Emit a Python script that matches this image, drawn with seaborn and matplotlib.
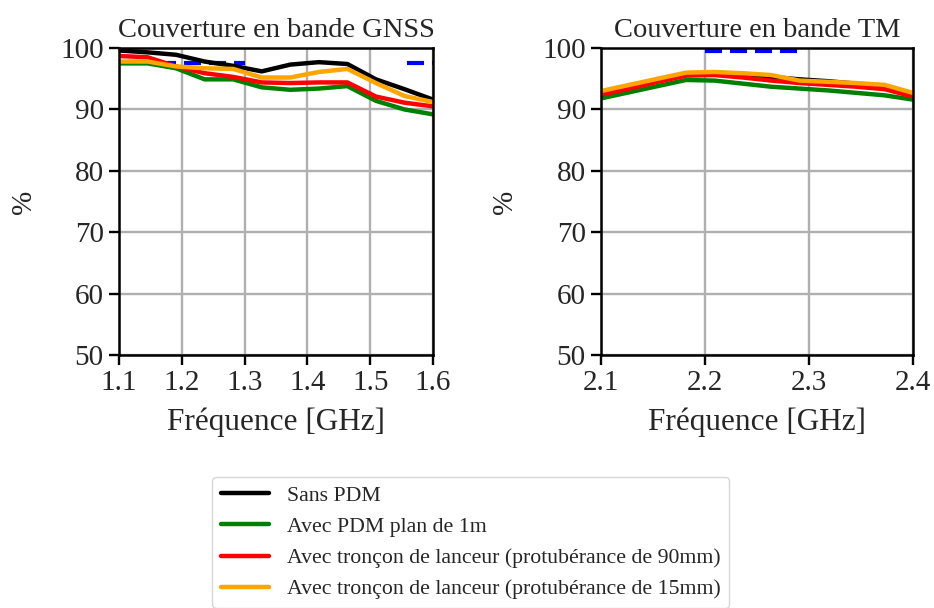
"""Couverture GNSS / TM avec et sans PDM."""

import matplotlib

matplotlib.use("Agg")
import matplotlib.pyplot as plt
import pandas as pd
import seaborn as sns

SERIES = [
    "Sans PDM",
    "Avec PDM plan de 1m",
    "Avec tronçon de lanceur (protubérance de 90mm)",
    "Avec tronçon de lanceur (protubérance de 15mm)",
]
COLORS = ["black", "green", "red", "orange"]

# bande GNSS
freq_gnss = [1.1, 1.1455, 1.1909, 1.2364, 1.2818, 1.3273, 1.3727, 1.4182, 1.4636, 1.5091, 1.5545, 1.6]
gnss_sans_pdm = [99.6, 99.3, 98.9, 97.8, 97.1, 96.2, 97.3, 97.7, 97.4, 94.9, 93.3, 91.6]
gnss_pdm_1m = [97.5, 97.5, 96.7, 94.9, 94.9, 93.6, 93.2, 93.4, 93.8, 91.4, 90.0, 89.2]
gnss_troncon_90 = [98.7, 98.5, 97.0, 95.9, 95.3, 94.4, 94.3, 94.4, 94.4, 92.1, 91.1, 90.5]
gnss_troncon_15 = [97.8, 97.8, 97.0, 96.7, 96.6, 95.2, 95.2, 96.1, 96.6, 94.3, 92.2, 91.2]

# bande TM
freq_tm = [2.1, 2.1273, 2.1545, 2.1818, 2.2091, 2.2364, 2.2636, 2.2909, 2.3182, 2.3455, 2.3727, 2.4]
tm_sans_pdm = [92.6, 93.6, 94.7, 95.7, 95.8, 95.6, 95.3, 94.9, 94.6, 94.2, 93.7, 92.3]
tm_pdm_1m = [91.8, 92.8, 93.8, 94.8, 94.7, 94.2, 93.7, 93.4, 93.1, 92.7, 92.3, 91.6]
tm_troncon_90 = [92.4, 93.4, 94.5, 95.5, 95.6, 95.2, 94.7, 94.3, 94.0, 93.7, 93.3, 92.1]
tm_troncon_15 = [93.0, 94.0, 95.0, 96.0, 96.1, 95.9, 95.6, 94.7, 94.5, 94.3, 94.0, 92.7]

# gabarits (bandes utiles)
spec_gnss_bands = [(1.164, 1.300), (1.559, 1.610)]
spec_gnss_level = 97.5
spec_tm_bands = [(2.200, 2.290)]
spec_tm_level = 99.5


def long_frame(freq, curves):
    rows = []
    for name, values in zip(SERIES, curves):
        for f, v in zip(freq, values):
            rows.append({"freq": f, "couverture": v, "serie": name})
    return pd.DataFrame(rows)


def draw_panel(ax, freq, curves, bands, level, title, xlim, xticks, ylabel_x):
    for lo, hi in bands:
        ax.plot([lo, hi], [level, level], color="blue", lw=3, dashes=(4.08, 1.92), zorder=2)
    df = long_frame(freq, curves)
    sns.lineplot(
        data=df,
        x="freq",
        y="couverture",
        hue="serie",
        hue_order=SERIES,
        palette=COLORS,
        lw=3.2,
        sort=False,
        legend=False,
        ax=ax,
        zorder=3,
    )
    ax.set_title(title, fontsize=20.5, pad=8)
    ax.set_xlabel("Fréquence [GHz]", fontsize=22.5, labelpad=8)
    ax.set_ylabel("%", fontsize=21)
    ax.yaxis.set_label_coords(ylabel_x, 0.5)
    ax.set_xlim(*xlim)
    ax.set_ylim(50, 100)
    ax.set_xticks(xticks)
    ax.set_yticks([50, 60, 70, 80, 90, 100])
    ax.grid(True, color="#b0b0b0", lw=1.7)
    ax.tick_params(labelsize=21, length=7, width=1.7, pad=4, direction="out", color="black")
    for spine in ax.spines.values():
        spine.set_color("black")
        spine.set_linewidth(1.8)
        spine.set_zorder(5)


sns.set_theme(style="ticks")
plt.rcParams["font.family"] = ["Liberation Serif", "DejaVu Serif"]

fig = plt.figure(figsize=(9.34, 6.08), dpi=100)
ax_gnss = fig.add_axes([0.1274, 0.416, 0.3362, 0.505])
ax_tm = fig.add_axes([0.6435, 0.416, 0.334, 0.505])

draw_panel(
    ax_gnss,
    freq_gnss,
    [gnss_sans_pdm, gnss_pdm_1m, gnss_troncon_90, gnss_troncon_15],
    spec_gnss_bands,
    spec_gnss_level,
    "Couverture en bande GNSS",
    (1.1, 1.6),
    [1.1, 1.2, 1.3, 1.4, 1.5, 1.6],
    -0.261,
)
draw_panel(
    ax_tm,
    freq_tm,
    [tm_sans_pdm, tm_pdm_1m, tm_troncon_90, tm_troncon_15],
    spec_tm_bands,
    spec_tm_level,
    "Couverture en bande TM",
    (2.1, 2.4),
    [2.1, 2.2, 2.3, 2.4],
    -0.266,
)

handles = [plt.Line2D([], [], color=c, lw=3.2) for c in COLORS]
fig.legend(
    handles,
    SERIES,
    loc="upper center",
    bbox_to_anchor=(0.504, 0.2155),
    borderaxespad=0,
    fontsize=15.7,
    handlelength=2.2,
    frameon=True,
    fancybox=True,
    edgecolor="#cccccc",
)

fig.savefig("out.png", dpi=100)
